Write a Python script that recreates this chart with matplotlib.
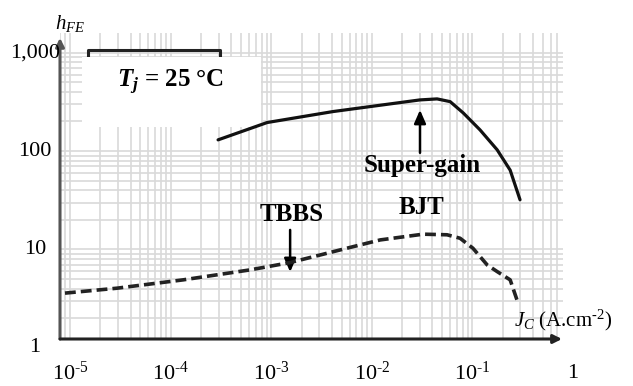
import numpy as np
import matplotlib
matplotlib.use("Agg")
import matplotlib.pyplot as plt
from matplotlib.patches import Rectangle

plt.rcParams["font.family"] = ["Liberation Serif", "DejaVu Serif"]
plt.rcParams["mathtext.fontset"] = "custom"
plt.rcParams["mathtext.rm"] = "Liberation Serif"
plt.rcParams["mathtext.it"] = "Liberation Serif:italic"
plt.rcParams["mathtext.bf"] = "Liberation Serif:bold"
plt.rcParams["mathtext.bfit"] = "Liberation Serif:italic:bold"

# Super-gain BJT (solid)
jc_bjt = [2.96e-4, 9.1e-4, 4.1e-3, 0.019, 0.030, 0.0445, 0.060, 0.081, 0.119, 0.176, 0.237, 0.297]
hfe_bjt = [130, 195, 252, 311, 331, 339, 318, 244, 164, 103, 64, 32]

# TBBS (dashed)
jc_tbbs = [8.9e-6, 2.93e-5, 1.33e-4, 6.15e-4, 1.54e-3, 5.66e-3, 0.0121, 0.0323,
           0.0559, 0.0753, 0.101, 0.140, 0.176, 0.237, 0.284]
hfe_tbbs = [3.6, 4.04, 4.91, 6.2, 7.36, 10.3, 12.5, 14.3,
            14.1, 13.0, 10.3, 6.97, 5.96, 4.91, 2.85]

xticks = [1e-5, 1e-4, 1e-3, 1e-2, 1e-1, 1]
xlabels = ["$10^{\u20105}$", "$10^{\u20104}$", "$10^{\u20103}$",
           "$10^{\u20102}$", "$10^{\u20101}$", "1"]
yticks = [1000, 100, 10, 1]
ylabels = ["1,000", "100", "10", "1"]

W, H = 633, 386
fig = plt.figure(figsize=(W / 100, H / 100), dpi=100)
# axes box in pixels: left 60, right 563, top 33, bottom 339
ax = fig.add_axes([60 / W, (H - 339) / H, 503 / W, 306 / H])
ax.set_xscale("log")
ax.set_yscale("log")
ax.set_xlim(10 ** -5.1, 10 ** -0.1)
ax.set_ylim(10 ** 0.09, 10 ** 3.2)

ax.grid(True, which="both", color="#d9d9d9", lw=1.2)
ax.set_axisbelow(True)
ax.tick_params(which="both", length=0, labelbottom=False, labelleft=False)
for s in ax.spines.values():
    s.set_visible(False)

# axis arrows
ax.annotate("", xy=(0, 0.984), xytext=(0, 0), xycoords="axes fraction",
            arrowprops=dict(arrowstyle="-|>,head_length=0.5,head_width=0.25",
                            color="#555555", lw=2.2, shrinkA=0, shrinkB=0))
ax.annotate("", xy=(0.998, 0), xytext=(0, 0), xycoords="axes fraction",
            arrowprops=dict(arrowstyle="-|>,head_length=0.5,head_width=0.25",
                            color="#222222", lw=2.2, shrinkA=0, shrinkB=0))

ax.plot(jc_bjt, hfe_bjt, color="#111111", lw=2.3, solid_capstyle="round", zorder=5)
ax.plot(jc_tbbs, hfe_tbbs, color="#222222", lw=2.6, dashes=(3, 1.4), zorder=5)

# tick labels drawn by hand, some fall outside the limits
for v, lab in zip(xticks, xlabels):
    ax.text(v, -34 / 306, lab, transform=ax.get_xaxis_transform(),
            ha="center", va="center", fontsize=16, clip_on=False)
for v, lab in zip(yticks, ylabels):
    ax.text(-25 / 503, v, lab, transform=ax.get_yaxis_transform(),
            ha="center", va="center", fontsize=16, clip_on=False)

ax.text(-5 / 503, 1.03, r"$h_{FE}$", transform=ax.transAxes,
        ha="left", va="center", fontsize=15, clip_on=False)
ax.text(0.903, 0.02, "$J_C$ (A.cm$^{\u20102}$)", transform=ax.transAxes,
        ha="left", va="bottom", fontsize=15, clip_on=False)

# temperature box
ax.plot([0.0557, 0.0557, 0.318, 0.318], [0.922, 0.944, 0.944, 0.922],
        transform=ax.transAxes, color="#222222", lw=2.2, clip_on=False)
ax.add_patch(Rectangle((0.0437, 0.693), 0.356, 0.229, transform=ax.transAxes,
                       facecolor="white", edgecolor="none", zorder=3))
ax.text(0.2207, 0.840, r"$\mathbfit{T}_{\mathbfit{j}}$ = 25 °C", transform=ax.transAxes,
        ha="center", va="center", fontsize=18, fontweight="bold", zorder=4)

# annotations
ax.annotate("", xy=(0.0301, 262), xytext=(0.0301, 96),
            arrowprops=dict(arrowstyle="-|>,head_length=0.8,head_width=0.35",
                            color="black", lw=1.8, shrinkA=0, shrinkB=0))
ax.text(0.032, 72, "Super-gain", ha="center", va="center", fontsize=18, fontweight="bold")
ax.text(0.031, 27, "BJT", ha="center", va="center", fontsize=18, fontweight="bold")

ax.annotate("", xy=(1.54e-3, 5.9), xytext=(1.54e-3, 15.8),
            arrowprops=dict(arrowstyle="-|>,head_length=0.8,head_width=0.35",
                            color="black", lw=1.8, shrinkA=0, shrinkB=0))
ax.text(1.6e-3, 22.5, "TBBS", ha="center", va="center", fontsize=18, fontweight="bold")

fig.savefig("out.png", dpi=100)
